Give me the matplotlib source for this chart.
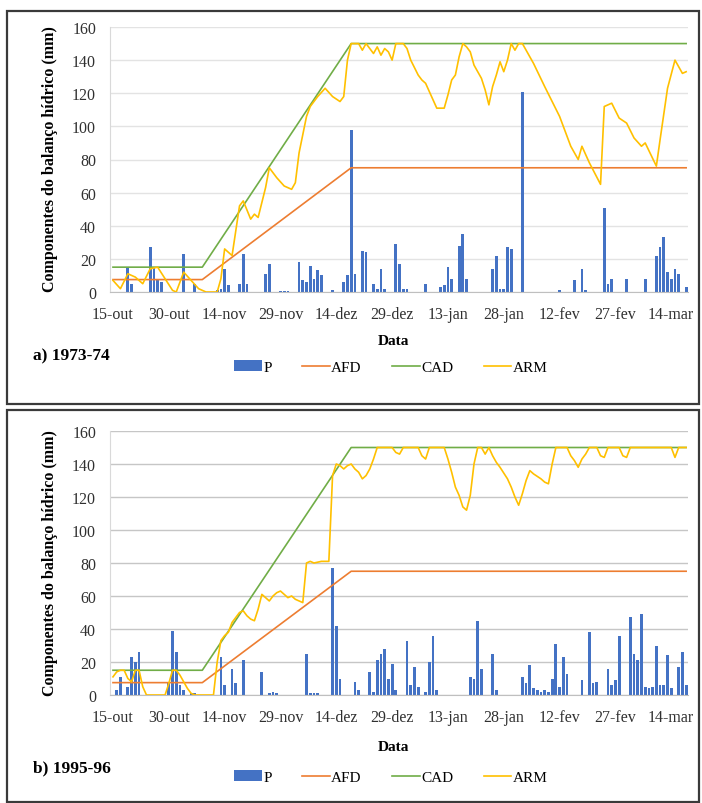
import matplotlib.pyplot as plt
import matplotlib.patches as patches

plt.rcParams['font.family'] = ['Liberation Serif', 'DejaVu Serif']

tick_days = [0, 15, 30, 45, 60, 75, 90, 105, 120, 135, 150]
tick_labels = ["15-out", "30-out", "14-nov", "29-nov", "14-dez", "29-dez",
               "13-jan", "28-jan", "12-fev", "27-fev", "14-mar"]

# CAD / AFD break points (day, mm) - same in both seasons
cad_days = [0, 24, 64, 154]
cad_vals = [15, 15, 150, 150]
afd_days = [0, 24, 64, 154]
afd_vals = [7.5, 7.5, 75, 75]

# a) 1973-74
p_days_a = [4, 5, 10, 11, 12, 13, 19, 22, 28, 29, 30, 31, 34, 35, 36, 41, 42,
            45, 46, 47, 50, 51, 52, 53, 54, 55, 56, 59, 62, 63, 64, 65, 67, 68,
            70, 71, 72, 73, 76, 77, 78, 79, 84, 88, 89, 90, 91, 93, 94, 95,
            102, 103, 104, 105, 106, 107, 110, 120, 124, 126, 127, 132, 133,
            134, 138, 143, 146, 147, 148, 149, 150, 151, 152, 154]
p_vals_a = [15, 5, 27, 15, 7, 6, 23, 5, 1, 2, 14, 4, 5, 23, 5, 11, 17,
            0.5, 0.5, 0.5, 18, 7, 6, 16, 8, 13, 10, 1, 6, 10, 98, 11, 25, 24,
            5, 2, 14, 2, 29, 17, 2, 2, 5, 3, 4, 15, 8, 28, 35, 8,
            14, 22, 2, 2, 27, 26, 121, 1, 7, 14, 1, 51, 5,
            8, 8, 8, 22, 27, 33, 12, 8, 14, 11, 3]
arm_days_a = [0, 2, 4, 6, 8, 10, 12, 14, 16, 17, 19, 21, 23, 25, 28, 29, 30,
              32, 34, 35, 37, 38, 39, 41, 42, 44, 46, 48, 49, 50, 52, 53, 55,
              57, 59, 61, 62, 63, 64, 66, 67, 68, 69, 70, 71, 72, 73, 74, 75,
              76, 78, 79, 80, 82, 83, 84, 85, 86, 87, 89, 90, 91, 92, 93, 94,
              95, 96, 97, 99, 100, 101, 102, 103, 104, 105, 106, 107, 108,
              109, 110, 113, 116, 120, 123, 125, 126, 128, 131, 132, 134,
              136, 138, 140, 142, 143, 146, 147, 149, 151, 153, 154]
arm_vals_a = [7, 2, 11, 9, 5, 14, 15, 8, 1, 0, 12, 7, 2, 0, 0, 8, 26,
              22, 52, 55, 44, 47, 45, 63, 75, 69, 64, 62, 66, 84, 106, 112, 118,
              123, 118, 115, 118, 140, 150, 150, 146, 150, 147, 144, 148, 143, 147, 145, 140,
              150, 150, 147, 140, 131, 128, 126, 121, 116, 111, 111, 119, 128, 131, 142, 150,
              148, 145, 137, 129, 122, 113, 124, 131, 139, 133, 140, 150, 146,
              150, 150, 138, 124, 106, 88, 80, 88, 78, 65, 112, 114,
              105, 102, 93, 88, 90, 76, 92, 123, 140, 132, 133]

# b) 1995-96
p_days_b = [1, 2, 4, 5, 6, 7, 15, 16, 17, 18, 19, 21, 22, 29, 30, 32, 33, 35,
            40, 42, 43, 44, 52, 53, 54, 55, 59, 60, 61, 65, 66, 69, 70, 71, 72,
            73, 74, 75, 76, 79, 80, 81, 82, 84, 85, 86, 87, 96, 97, 98, 99,
            102, 103, 110, 111, 112, 113, 114, 115, 116, 117, 118, 119, 120,
            121, 122, 126, 128, 129, 130, 133, 134, 135, 136, 139, 140, 141,
            142, 143, 144, 145, 146, 147, 148, 149, 150, 152, 153, 154]
p_vals_b = [3, 11, 5, 23, 20, 26, 7, 39, 26, 6, 3, 1, 1, 23, 6, 16, 7, 21,
            14, 1, 2, 1, 25, 1, 1, 1, 77, 42, 10, 8, 3, 14, 2, 21, 25,
            28, 10, 19, 3, 33, 6, 17, 5, 2, 20, 36, 3, 11, 10, 45, 16,
            25, 3, 11, 7, 18, 4, 3, 2, 3, 2, 10, 31, 5,
            23, 13, 9, 38, 7, 8, 16, 6, 9, 36, 47, 25, 21,
            49, 5, 4, 5, 30, 6, 6, 24, 4, 17, 26, 6]
arm_days_b = [0, 1, 2, 3, 4, 5, 6, 7, 8, 9, 14, 15, 16, 17, 18, 19, 20, 21, 22,
              27, 28, 29, 30, 31, 32, 33, 34, 35, 36, 37, 38, 39, 40, 41, 42,
              43, 44, 45, 46, 47, 48, 49, 50, 51, 52, 53, 54, 56, 58, 59, 60,
              61, 62, 63, 64, 65, 66, 67, 68, 69, 70, 71, 75, 76, 77, 78, 82,
              83, 84, 85, 89, 90, 91, 92, 93, 94, 95, 96, 97, 98, 99, 100, 101,
              102, 103, 104, 106, 107, 108, 109, 110, 111, 112, 113, 115, 116,
              117, 118, 119, 122, 123, 124, 125, 126, 127, 128, 130, 131, 132,
              133, 136, 137, 138, 139, 150, 151, 152, 154]
arm_vals_b = [11, 14, 15, 15, 10, 8, 15, 15, 5, 0, 0, 7, 15, 15, 12, 8, 4, 1, 0,
              0, 20, 33, 36, 38, 44, 47, 50, 51, 48, 46, 45, 52, 61, 59, 57,
              60, 62, 63, 61, 59, 60, 58, 57, 56, 80, 81, 80, 81, 81, 133, 140,
              139, 137, 139, 140, 137, 135, 131, 133, 137, 143, 150, 150, 147, 146, 150, 150,
              145, 143, 150, 150, 143, 135, 126, 121, 114, 112, 121, 140, 150, 150, 146, 150,
              145, 141, 138, 131, 126, 120, 115, 122, 130, 136, 134, 131, 129,
              128, 140, 150, 150, 145, 142, 138, 143, 146, 150, 150, 145, 144,
              150, 150, 145, 144, 150, 150, 144, 150, 150]

W, H = 702, 804
fig = plt.figure(figsize=(W / 100, H / 100), dpi=100)

# panel frames
for top, bot in [(12, 405), (411, 803)]:
    fig.patches.append(patches.Rectangle((7 / W, 1 - bot / H), 692 / W, (bot - top) / H,
                                         transform=fig.transFigure, fill=False,
                                         edgecolor='#3a3a3a', linewidth=1.6))


def draw(ax, p_days, p_vals, arm_days, arm_vals, gridc):
    ax.bar(p_days, p_vals, width=0.75, color='#4472C4', label='P', zorder=2)
    ax.plot(afd_days, afd_vals, color='#ED7D31', lw=1.2, label='AFD', zorder=3)
    ax.plot(cad_days, cad_vals, color='#70AD47', lw=1.2, label='CAD', zorder=3)
    ax.plot(arm_days, arm_vals, color='#FFC000', lw=1.2, label='ARM', zorder=4)
    ax.set_xlim(-0.8, 154.5)
    ax.set_ylim(0, 160)
    ax.set_yticks(range(0, 161, 20))
    ax.set_xticks(tick_days)
    ax.set_xticklabels(tick_labels)
    ax.grid(axis='y', color=gridc, lw=1.0, zorder=0)
    ax.set_axisbelow(True)
    for s in ['top', 'right']:
        ax.spines[s].set_visible(False)
    ax.spines['left'].set_color('#d9d9d9')
    ax.spines['bottom'].set_color('#bfbfbf')
    ax.tick_params(length=0, labelsize=11.5, colors='#303030')
    ax.tick_params(axis='x', pad=10)
    ax.tick_params(axis='y', pad=10)


ax1 = fig.add_axes([110 / W, 1 - 293 / H, 578 / W, 265 / H])
draw(ax1, p_days_a, p_vals_a, arm_days_a, arm_vals_a, '#e3e3e3')
ax2 = fig.add_axes([110 / W, 1 - 696 / H, 578 / W, 264 / H])
draw(ax2, p_days_b, p_vals_b, arm_days_b, arm_vals_b, '#c6c6c6')

ylab = "Componentes do balanço hídrico (mm)"
fig.text(50 / W, 1 - 159 / H, ylab, rotation=90, ha='center', va='center',
         fontsize=11.5, fontweight='bold')
fig.text(50 / W, 1 - 563 / H, ylab, rotation=90, ha='center', va='center',
         fontsize=11.5, fontweight='bold')
fig.text(393 / W, 1 - 342 / H, "Data", ha='center', va='center', fontsize=11, fontweight='bold')
fig.text(393 / W, 1 - 748 / H, "Data", ha='center', va='center', fontsize=11, fontweight='bold')
fig.text(33 / W, 1 - 356 / H, "a) 1973-74", ha='left', va='center', fontsize=12.5, fontweight='bold')
fig.text(33 / W, 1 - 768 / H, "b) 1995-96", ha='left', va='center', fontsize=12.5, fontweight='bold')

for ax, yy in [(ax1, 368), (ax2, 778)]:
    h, l = ax.get_legend_handles_labels()
    order = [3, 0, 1, 2]
    fig.legend([h[i] for i in order], [l[i] for i in order], loc='center',
               bbox_to_anchor=(391 / W, 1 - yy / H), ncol=4, frameon=False,
               fontsize=11, handlelength=1.8, handletextpad=0.1, columnspacing=2.0,
               borderpad=0)

fig.savefig("out.png", dpi=100)
